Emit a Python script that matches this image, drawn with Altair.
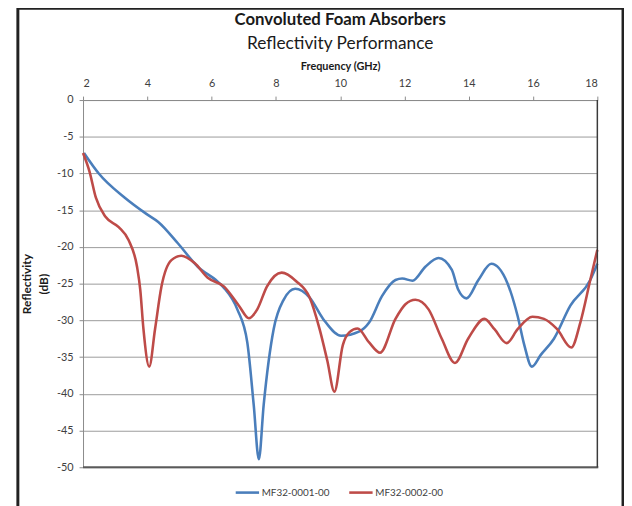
import altair as alt
import pandas as pd

# Series
blue_name = "MF32-0001-00"
blue_x = [2.03, 2.49, 3.3, 3.97, 4.34, 4.95, 5.57, 6.18, 6.39, 6.8, 7.11, 7.31, 7.47, 7.62,
          7.93, 8.24, 8.6, 9.05, 9.47, 10.03, 10.6, 10.9, 11.3, 11.72, 11.93, 12.25, 12.65,
          13.06, 13.47, 13.67, 13.93, 14.3, 14.7, 15.2, 15.52, 15.73, 15.96, 16.24, 16.65,
          17.16, 17.78, 18.0]
blue_y = [-7.2, -10.0, -13.3, -15.5, -16.6, -19.5, -22.7, -24.7, -25.6, -28.5, -33.0, -41.5,
          -48.9, -41.5, -31.2, -27.2, -25.7, -26.9, -29.8, -32.1, -31.5, -30.3, -26.7, -24.5,
          -24.3, -24.6, -22.7, -21.5, -23.1, -25.8, -27.0, -24.5, -22.3, -24.9, -29.4, -33.4,
          -36.3, -34.7, -32.5, -28.0, -24.5, -22.3]

red_name = "MF32-0002-00"
red_x = [2.0, 2.2, 2.4, 2.7, 3.11, 3.42, 3.68, 3.78, 3.88, 4.06, 4.24, 4.44, 4.75, 5.06, 5.47,
         5.88, 6.39, 6.85, 7.16, 7.42, 7.72, 8.18, 8.64, 9.05, 9.36, 9.6, 9.82, 10.08, 10.29,
         10.54, 10.9, 11.24, 11.72, 12.03, 12.34, 12.75, 13.16, 13.57, 13.98, 14.49, 14.8,
         15.18, 15.52, 15.98, 16.34, 16.75, 17.19, 17.47, 17.78, 18.0]
red_y = [-7.2, -9.7, -13.3, -15.9, -17.3, -19.1, -22.7, -25.8, -31.2, -36.3, -31.2, -25.4,
         -21.8, -21.2, -22.2, -24.2, -25.4, -28.0, -29.7, -28.5, -25.4, -23.5, -24.7, -26.9,
         -31.2, -35.5, -39.7, -33.4, -31.6, -31.1, -33.0, -34.4, -29.8, -27.8, -27.2, -28.5,
         -32.5, -35.8, -32.5, -29.8, -31.2, -33.1, -31.2, -29.5, -29.8, -31.2, -33.7, -30.3,
         -24.5, -20.4]

x_ticks = [2, 4, 6, 8, 10, 12, 14, 16, 18]
y_ticks = [0, -5, -10, -15, -20, -25, -30, -35, -40, -45, -50]

series_colors = ["#4A7EBB", "#BE4B48"]

df = pd.concat([
    pd.DataFrame({"freq": blue_x, "refl": blue_y, "series": blue_name, "order": range(len(blue_x))}),
    pd.DataFrame({"freq": red_x, "refl": red_y, "series": red_name, "order": range(len(red_x))}),
])

W, H = 521, 372
FONT = "Lato"

lines = alt.Chart(df).mark_line(interpolate="monotone", strokeWidth=2.6).encode(
    x=alt.X("freq:Q",
            scale=alt.Scale(domain=[2, 18], nice=False, zero=False),
            axis=alt.Axis(orient="top", values=x_ticks, title="Frequency (GHz)",
                          grid=False, tickSize=4, labelPadding=8, titlePadding=6,
                          titleFontWeight="bold", titleFontSize=11, labelFontSize=11)),
    y=alt.Y("refl:Q",
            scale=alt.Scale(domain=[-50, 0], nice=False, zero=False),
            axis=alt.Axis(values=y_ticks, title=["Reflectivity", "(dB)"], grid=True,
                          tickSize=4, labelPadding=6, titlePadding=6,
                          titleLineHeight=17,
                          titleFontWeight="bold", titleFontSize=12, labelFontSize=11,
                          labelExpr="datum.value < 0 ? '-' + (-datum.value) : '' + datum.value")),
    color=alt.Color("series:N",
                    scale=alt.Scale(domain=[blue_name, red_name], range=series_colors),
                    legend=alt.Legend(orient="none", legendX=153, legendY=384,
                                      direction="horizontal", title=None,
                                      symbolType="stroke", symbolSize=560,
                                      symbolStrokeWidth=2.6, labelFontSize=10,
                                      labelOffset=1, columnPadding=14)),
    order="order:Q",
)

one = pd.DataFrame({"k": [0]})
frame = alt.Chart(one).mark_rect(fillOpacity=0, stroke="#222222", strokeWidth=3).encode(
    x=alt.value(-66), x2=alt.value(547), y=alt.value(-93), y2=alt.value(450))
bottom_rule = alt.Chart(one).mark_rule(color="#5a5a5a", strokeWidth=2).encode(
    x=alt.value(0), x2=alt.value(W + 1), y=alt.value(H))
right_rule = alt.Chart(one).mark_rule(color="#3a3a3a", strokeWidth=1.5).encode(
    x=alt.value(W), y=alt.value(0), y2=alt.value(H))

chart = alt.layer(frame, lines, bottom_rule, right_rule).properties(
    width=W, height=H,
    autosize=alt.AutoSizeParams(type="none"),
    padding={"left": 76, "top": 90, "right": 27, "bottom": 36},
    title=alt.TitleParams(
        text="Convoluted Foam Absorbers",
        subtitle="Reflectivity Performance",
        anchor="middle", fontSize=17, fontWeight="bold", color="#1a1a1a",
        subtitleFontSize=17.5, subtitleColor="#1a1a1a", subtitleFont=FONT,
        subtitlePadding=6, offset=-47, font=FONT),
).configure(font=FONT).configure_view(stroke=None).configure_axis(
    domainColor="#8a8a8a", tickColor="#8a8a8a", gridColor="#9a9a9a",
    labelColor="#404040", titleColor="#1a1a1a", labelFont=FONT, titleFont=FONT,
).configure_legend(labelColor="#404040", labelFont=FONT)

chart.save("out.html", embed_options={"renderer": "svg", "actions": False})
